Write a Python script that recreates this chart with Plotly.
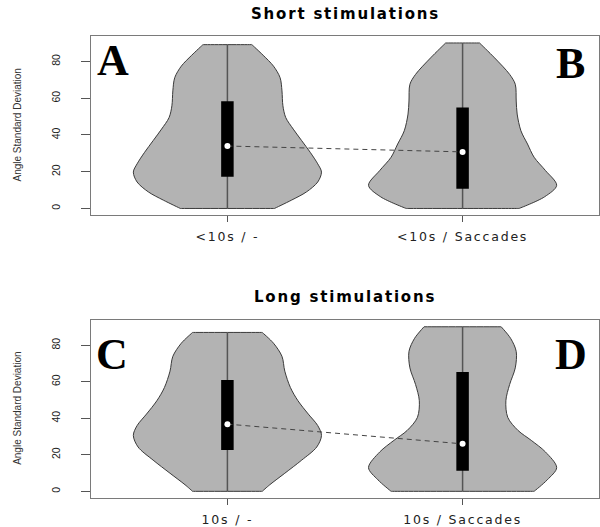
import plotly.graph_objects as go

# ---------------- data ----------------
panel_titles = ["Short stimulations", "Long stimulations"]
cats_short = ["<10s / -", "<10s / Saccades"]
cats_long = ["10s / -", "10s / Saccades"]
panel_letters = [["A", "B"], ["C", "D"]]
y_tick_vals = [0, 20, 40, 60, 80]
y_label = "Angle Standard Deviation"

# density profiles (relative half-width) at angle levels
A_levels = [0, 4.5, 9, 14.4, 19.8, 24.3, 30.6, 36.9, 43.2, 49.5, 55.9, 64, 71.2, 77.5, 83.4, 89.2]
A_density = [0.50, 0.68, 0.84, 0.96, 1.0, 0.96, 0.88, 0.79, 0.70, 0.62, 0.59, 0.58, 0.56, 0.49, 0.38, 0.26]
B_levels = [0, 6.3, 12.6, 20.7, 27.9, 35.1, 42.3, 51.4, 58.5, 67.6, 73, 82, 90.1]
B_density = [0.60, 0.87, 1.0, 0.88, 0.76, 0.69, 0.62, 0.58, 0.57, 0.56, 0.50, 0.34, 0.18]
C_levels = [0, 3.6, 9.9, 17.1, 24.3, 30.6, 36, 42.3, 49.6, 56.8, 65.8, 73.9, 81.1, 87]
C_density = [0.37, 0.45, 0.61, 0.79, 0.95, 1.0, 0.96, 0.86, 0.75, 0.67, 0.61, 0.58, 0.49, 0.37]
D_levels = [0, 6.3, 13, 21.6, 27.9, 33.3, 40.5, 49.6, 58.5, 67.6, 76.6, 83.8, 90.1]
D_density = [0.76, 0.90, 1.0, 0.88, 0.73, 0.59, 0.48, 0.46, 0.50, 0.56, 0.57, 0.51, 0.41]

# box statistics: [q1, median, q3]
A_box = [17.3, 34.0, 58.4]
B_box = [10.8, 30.8, 55.0]
C_box = [22.7, 36.8, 61.0]
D_box = [11.3, 26.0, 65.4]

# ---------------- styling ----------------
WEX = 0.4
FILL = "#b3b3b3"
OUTLINE = "#3a3a3a"
FRAME = "#7a7a7a"

fig = go.Figure()


def add_violin(pos, levels, dens, box, xa, ya):
    left = [pos - d * WEX for d in dens]
    right = [pos + d * WEX for d in reversed(dens)]
    lv = list(levels)
    rv = list(reversed(levels))
    # duplicated end points give sharp corners at the flat top / bottom of the spline outline
    xs = [left[0]] + left + [left[-1], right[0]] + right + [right[-1], left[0], left[0]]
    ys = [lv[0]] + lv + [lv[-1], rv[0]] + rv + [rv[-1], lv[0], lv[0]]
    fig.add_trace(go.Scatter(x=xs, y=ys, mode="lines", fill="toself", fillcolor=FILL,
                             line=dict(color=OUTLINE, width=1, shape="spline", smoothing=0.9,
                                       simplify=False),
                             xaxis=xa, yaxis=ya, hoverinfo="skip", showlegend=False))
    fig.add_trace(go.Scatter(x=[pos, pos], y=[levels[0], levels[-1]], mode="lines",
                             line=dict(color="#555555", width=1.5),
                             xaxis=xa, yaxis=ya, hoverinfo="skip", showlegend=False))
    fig.add_trace(go.Scatter(x=[pos, pos], y=[box[0], box[2]], mode="lines",
                             line=dict(color="black", width=12.5),
                             xaxis=xa, yaxis=ya, hoverinfo="skip", showlegend=False))


def add_medians(b1, b2, xa, ya):
    fig.add_trace(go.Scatter(x=[1, 2], y=[b1[1], b2[1]], mode="lines",
                             line=dict(color="#444444", width=1, dash="5px,4px"),
                             xaxis=xa, yaxis=ya, hoverinfo="skip", showlegend=False))
    fig.add_trace(go.Scatter(x=[1, 2], y=[b1[1], b2[1]], mode="markers",
                             marker=dict(color="white", size=6, line=dict(width=0)),
                             xaxis=xa, yaxis=ya, hoverinfo="skip", showlegend=False))


add_violin(1, A_levels, A_density, A_box, "x", "y")
add_violin(2, B_levels, B_density, B_box, "x", "y")
add_medians(A_box, B_box, "x", "y")
add_violin(1, C_levels, C_density, C_box, "x2", "y2")
add_violin(2, D_levels, D_density, D_box, "x2", "y2")
add_medians(C_box, D_box, "x2", "y2")


def tt(s):
    s = s.replace("<", "&lt;")
    return '<span style="letter-spacing:1.8px">' + s + "</span>"


xdom = [91 / 600, 599 / 600]
top_dom = [1 - 217 / 527, 1 - 36 / 527]
bot_dom = [1 - 502 / 527, 1 - 322 / 527]
yrange = [-3.75, 94.05]

xcommon = dict(range=[0.42, 2.58], tickvals=[1, 2], ticks="outside", ticklen=6, tickcolor="#555",
               showline=True, mirror=True, linecolor=FRAME, linewidth=1, showgrid=False, zeroline=False,
               tickfont=dict(family="DejaVu Sans", size=12.5, color="#222"), ticklabelstandoff=4,
               fixedrange=True)
ycommon = dict(range=yrange, tickvals=y_tick_vals, ticks="outside", ticklen=9, tickcolor="#555",
               tickangle=-90, showline=True, mirror=True, linecolor=FRAME, linewidth=1,
               showgrid=False, zeroline=False, ticklabelstandoff=17,
               tickfont=dict(family="Liberation Sans", size=10.5, color="#222"), fixedrange=True)

fig.update_layout(
    width=600, height=527, margin=dict(l=0, r=0, t=0, b=0),
    paper_bgcolor="white", plot_bgcolor="white", showlegend=False,
    xaxis=dict(domain=xdom, anchor="y", ticktext=[tt(c) for c in cats_short], **xcommon),
    yaxis=dict(domain=top_dom, anchor="x", **ycommon),
    xaxis2=dict(domain=xdom, anchor="y2", ticktext=[tt(c) for c in cats_long], **xcommon),
    yaxis2=dict(domain=bot_dom, anchor="x2", **ycommon),
)

ann = []
title_y = [1 - 14 / 527, 1 - 299 / 527]
label_y = [(top_dom[0] + top_dom[1]) / 2, (bot_dom[0] + bot_dom[1]) / 2]
for i, t in enumerate(panel_titles):
    ann.append(dict(x=(xdom[0] + xdom[1]) / 2, y=title_y[i], xref="paper", yref="paper",
                    text='<span style="letter-spacing:1.8px"><b>' + t + "</b></span>", showarrow=False,
                    font=dict(family="DejaVu Sans", size=15, color="black"),
                    xanchor="center", yanchor="middle"))
    ann.append(dict(x=18 / 600, y=label_y[i], xref="paper", yref="paper", text=y_label,
                    textangle=-90, showarrow=False,
                    font=dict(family="Liberation Sans", size=10, color="#333"),
                    xanchor="center", yanchor="middle"))

letter_pos = [[(0.514, 80.3), (2.457, 78.9)], [(0.511, 75.0), (2.461, 74.8)]]
axes = [("x", "y"), ("x2", "y2")]
for i in range(2):
    for j in range(2):
        lx, ly = letter_pos[i][j]
        ann.append(dict(x=lx, y=ly, xref=axes[i][0], yref=axes[i][1], text="<b>" + panel_letters[i][j] + "</b>",
                        showarrow=False, font=dict(family="Liberation Serif", size=44, color="black"),
                        xanchor="center", yanchor="middle"))
fig.update_layout(annotations=ann)

fig.write_html("out.html", config={"displayModeBar": False},
               post_script="document.body.style.margin='0px';document.body.style.overflow='hidden';")
